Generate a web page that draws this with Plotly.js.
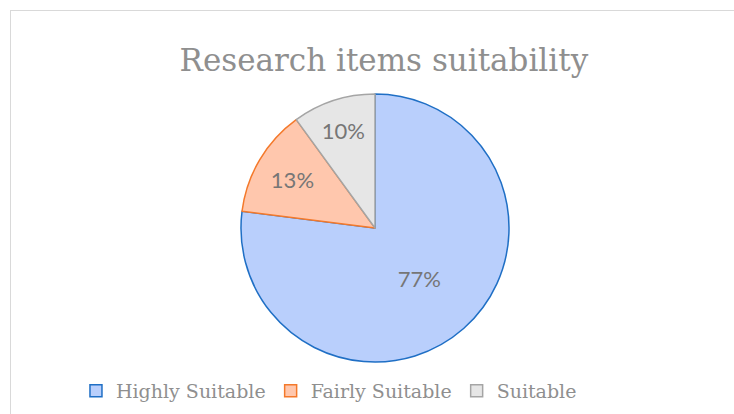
<!DOCTYPE html>
<html>
<head>
<meta charset="utf-8">
<script src="https://cdn.plot.ly/plotly-3.0.1.min.js"></script>
<style>
html,body{margin:0;padding:0;background:#fff;}
#wrap{position:relative;width:734px;height:414px;overflow:hidden;}
#frame{position:absolute;left:10px;top:10px;width:740px;height:420px;border:1.5px solid #d9d9d9;box-sizing:border-box;pointer-events:none;}
#chart{position:absolute;left:0;top:0;width:734px;height:414px;}
</style>
</head>
<body>
<div id="wrap"><div id="chart"></div><div id="frame"></div></div>
<script>
var categories = ["Highly Suitable", "Fairly Suitable", "Suitable"];
var percentages = [77, 13, 10];
var fillColors = ["#b9cffc", "#ffc7ad", "#e6e6e6"];
var lineColors = ["#1f6fc5", "#f4792b", "#a5a5a5"];

var trace = {
  type: "pie",
  labels: categories,
  values: percentages,
  sort: false,
  direction: "clockwise",
  rotation: 0,
  textinfo: "percent",
  texttemplate: "%{value}%",
  textposition: "inside",
  insidetextorientation: "horizontal",
  textfont: {family: "Lato, 'Open Sans', sans-serif", size: 22, color: "#767676"},
  marker: {colors: fillColors, line: {color: lineColors, width: 1.5}},
  domain: {x: [0.3283, 0.6935], y: [0.1256, 0.773]},
  hoverinfo: "label+percent"
};

var layout = {
  width: 734, height: 414,
  margin: {l: 0, r: 0, t: 0, b: 0},
  paper_bgcolor: "#ffffff",
  title: {
    text: "Research items suitability",
    font: {family: "'DejaVu Serif', serif", size: 31, color: "#8f8f8f"},
    x: 0.523, xanchor: "center", xref: "paper",
    y: 0.855, yanchor: "middle", yref: "container"
  },
  showlegend: true,
  legend: {
    orientation: "h",
    x: 0.1035, xanchor: "left",
    y: 0.056, yanchor: "middle",
    font: {family: "'DejaVu Serif', serif", size: 19, color: "#8f8f8f"},
    itemwidth: 30,
    traceorder: "normal"
  },
  uniformtext: {minsize: 22, mode: "show"}
};

Plotly.newPlot("chart", [trace], layout, {displayModeBar: false, staticPlot: true});
</script>
</body>
</html>
